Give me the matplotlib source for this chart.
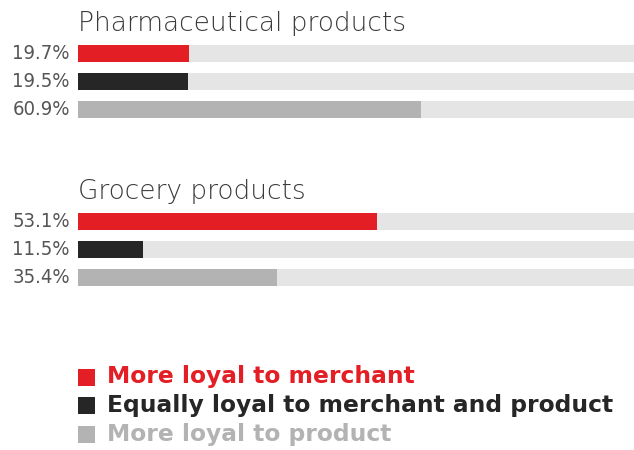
import matplotlib.pyplot as plt
from matplotlib.patches import Rectangle

# Daten
groups = ['Pharmaceutical products', 'Grocery products']
series = ['More loyal to merchant', 'Equally loyal to merchant and product', 'More loyal to product']
pharma = [19.7, 19.5, 60.9]
grocery = [53.1, 11.5, 35.4]
colors = ['#e31e24', '#262626', '#b3b3b3']
bg_color = '#e5e5e5'

values = [pharma, grocery]

W, H = 634, 450
fig = plt.figure(figsize=(W / 100, H / 100), dpi=100)
x0 = 78
ax = fig.add_axes([x0 / W, 0, 1 - x0 / W, 1])
ax.set_ylim(H, 0)
ax.set_xlim(0, 98.8)
ax.axis('off')

group_top = [53.5, 221.5]  # Mitte des ersten Balkens je Gruppe (Pixel)
step = 28
bar_h = 17

for g, vals in enumerate(values):
    ys = [group_top[g] + i * step for i in range(len(vals))]
    ax.barh(ys, [100] * len(vals), height=bar_h, color=bg_color, linewidth=0)
    ax.barh(ys, vals, height=bar_h, color=colors, linewidth=0)
    ax.text(0, group_top[g] - 30, groups[g], fontsize=19, color='#3a3a3a',
            family='DejaVu Sans', weight='light', va='center', ha='left')
    for y, v in zip(ys, vals):
        fig.text(70 / W, 1 - y / H, f'{v:.1f}%', fontsize=14.5, color='#555555',
                 family='DejaVu Sans', stretch='condensed', weight='light',
                 ha='right', va='center')

# Legende
for i, (s, c) in enumerate(zip(series, colors)):
    yc = 377 + i * 28.5
    fig.patches.append(Rectangle((78 / W, 1 - (yc + 8.5) / H), 17 / W, 17 / H,
                                 transform=fig.transFigure, color=c, linewidth=0))
    fig.text(107 / W, 1 - yc / H, s, fontsize=16.8, color=c, weight='bold',
             family='DejaVu Sans', ha='left', va='center')

plt.savefig('out.png', dpi=100)
